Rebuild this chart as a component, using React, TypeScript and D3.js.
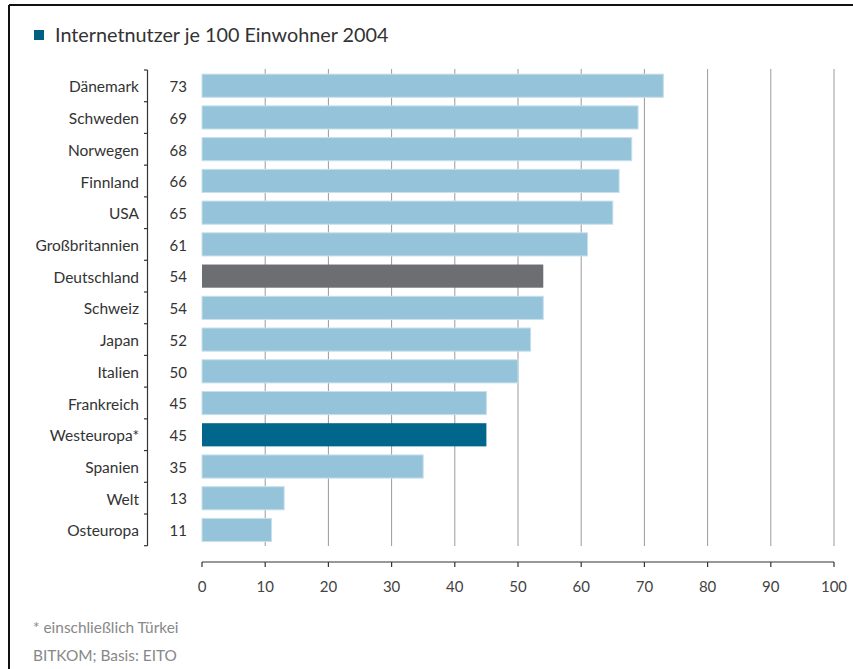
import React from 'react';
import * as d3 from 'd3';

const countries = [
  'Dänemark', 'Schweden', 'Norwegen', 'Finnland', 'USA', 'Großbritannien', 'Deutschland',
  'Schweiz', 'Japan', 'Italien', 'Frankreich', 'Westeuropa*', 'Spanien', 'Welt', 'Osteuropa',
];
const users = [73, 69, 68, 66, 65, 61, 54, 54, 52, 50, 45, 45, 35, 13, 11];
const xTicks = [0, 10, 20, 30, 40, 50, 60, 70, 80, 90, 100];
const highlight = { 'Deutschland': '#6d6e71', 'Westeuropa*': '#00668c' };

const W = 853;
const H = 669;
const FONT = 'Lato, "Open Sans", sans-serif';

export default function App() {
  const x = d3.scaleLinear().domain([0, 100]).range([202, 834]);
  const y = d3.scaleBand().domain(countries).range([70, 545.7]).paddingInner(0.27).paddingOuter(0.13);
  const band = d3.scaleBand().domain(countries).range([70, 545.7]);

  return (
    <div style={{ position: 'fixed', left: 0, top: 0 }}>
      <svg width={W} height={H} style={{ display: 'block', background: '#fff' }} fontFamily={FONT}>
        {/* frame */}
        <line x1={9} y1={5} x2={W} y2={5} stroke="#111" strokeWidth={2} />
        <line x1={9} y1={5} x2={9} y2={H} stroke="#111" strokeWidth={2} />

        {/* title */}
        <rect x={34} y={30} width={10} height={10} fill="#005f83" />
        <text x={55} y={42} fontSize={19.8} fill="#333">Internetnutzer je 100 Einwohner 2004</text>

        {/* grid */}
        {xTicks.filter((t) => t > 0).map((t) => (
          <line key={t} x1={x(t)} x2={x(t)} y1={69} y2={546} stroke="#9a9a9a" strokeWidth={1} />
        ))}

        {/* category bracket */}
        <line x1={147.5} x2={147.5} y1={70} y2={545.7} stroke="#333" strokeWidth={1.2} />
        {countries.map((c) => (
          <line key={c} x1={144} x2={147.5} y1={band(c)} y2={band(c)} stroke="#333" strokeWidth={1.2} />
        ))}
        <line x1={144} x2={147.5} y1={545.7} y2={545.7} stroke="#333" strokeWidth={1.2} />

        {/* bars */}
        {countries.map((c, i) => (
          <g key={c}>
            <rect
              x={x(0)}
              y={y(c)}
              width={x(users[i]) - x(0)}
              height={y.bandwidth()}
              fill={highlight[c] || '#95c3da'}
              stroke={highlight[c] ? 'none' : '#c8e0ec'}
              strokeWidth={1}
            />
            <text x={139} y={band(c) + band.bandwidth() / 2} dy="0.42em" textAnchor="end" fontSize={15.5} fill="#333">
              {c}
            </text>
            <text x={187} y={band(c) + band.bandwidth() / 2} dy="0.42em" textAnchor="end" fontSize={15} fill="#333">
              {users[i]}
            </text>
          </g>
        ))}

        {/* x axis */}
        <line x1={x(0)} x2={x(100)} y1={562} y2={562} stroke="#333" strokeWidth={1.2} />
        {xTicks.map((t) => (
          <g key={t}>
            <line x1={x(t)} x2={x(t)} y1={562} y2={567} stroke="#333" strokeWidth={1.2} />
            <text x={x(t)} y={586} dy="0.38em" textAnchor="middle" fontSize={15} fill="#444">{t}</text>
          </g>
        ))}

        {/* notes */}
        <text x={33} y={633} fontSize={15.4} fill="#888">* einschließlich Türkei</text>
        <text x={33} y={661} fontSize={15.4} fill="#888">BITKOM; Basis: EITO</text>
      </svg>
    </div>
  );
}
